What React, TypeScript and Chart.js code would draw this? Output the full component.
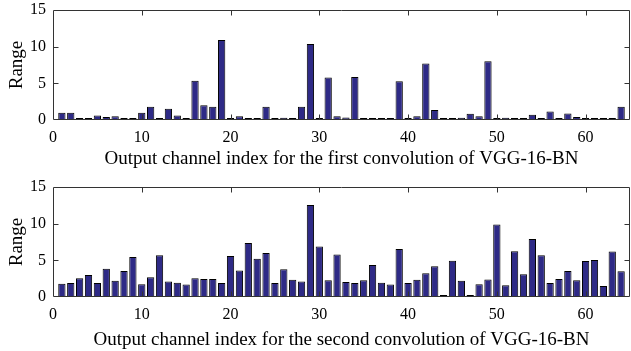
import React, { useEffect, useRef } from "react";
import { Chart, registerables } from "chart.js";

Chart.register(...registerables);

const channels: number[] = Array.from({ length: 64 }, (_, i) => i + 1);

const firstConvRange: number[] = [
  1.0, 1.0, 0.05, 0.2, 0.6, 0.4, 0.5, 0.05, 0.05, 1.0,
  1.8, 0.05, 1.55, 0.6, 0.05, 5.35, 2.0, 1.8, 10.9, 0.1,
  0.5, 0.05, 0.05, 1.8, 0.05, 0.3, 0.05, 1.8, 10.35, 0.05,
  5.8, 0.5, 0.35, 5.85, 0.05, 0.05, 0.05, 0.05, 5.3, 0.05,
  0.5, 7.7, 1.35, 0.05, 0.05, 0.3, 0.85, 0.5, 8.0, 0.1,
  0.3, 0.05, 0.1, 0.7, 0.05, 1.15, 0.05, 0.9, 0.4, 0.05,
  0.05, 0.2, 0.05, 1.8,
];

const secondConvRange: number[] = [
  1.8, 1.9, 2.55, 3.0, 1.9, 3.85, 2.2, 3.55, 5.45, 1.75,
  2.7, 5.7, 2.1, 1.95, 1.7, 2.55, 2.45, 2.45, 1.9, 5.6,
  3.6, 7.35, 5.2, 6.0, 1.9, 3.8, 2.35, 2.1, 12.55, 6.9,
  2.3, 5.8, 2.05, 1.9, 2.3, 4.35, 1.95, 1.7, 6.55, 1.9,
  2.35, 3.25, 4.2, 0.05, 4.95, 2.2, 0.05, 1.75, 2.4, 9.9,
  1.6, 6.25, 3.1, 7.9, 5.7, 1.9, 2.45, 3.55, 2.3, 4.9,
  5.05, 1.5, 6.2, 3.5,
];

const xTicks: number[] = [0, 10, 20, 30, 40, 50, 60];
const yTicks: number[] = [0, 5, 10, 15];

const FONT = "'Liberation Serif', 'Times New Roman', serif";

const framePlugin = {
  id: "frame",
  afterDraw(chart: any) {
    const { ctx, chartArea } = chart;
    const { left, right, top, bottom } = chartArea;
    const xs = chart.scales.x;
    const ys = chart.scales.y;
    ctx.save();
    ctx.strokeStyle = "#333";
    ctx.lineWidth = 1;
    ctx.beginPath();
    const L = Math.round(left) + 0.5;
    const R = Math.round(right) - 0.5;
    const T = Math.round(top) + 0.5;
    const B = Math.round(bottom) - 0.5;
    ctx.rect(L, T, R - L, B - T);
    const len = 5;
    xTicks.forEach((v) => {
      const px = Math.round(xs.getPixelForValue(v)) + 0.5;
      if (px <= L + 1 || px >= R - 1) return;
      ctx.moveTo(px, B);
      ctx.lineTo(px, B - len);
      ctx.moveTo(px, T);
      ctx.lineTo(px, T + len);
    });
    yTicks.forEach((v) => {
      const py = Math.round(ys.getPixelForValue(v)) + 0.5;
      if (py <= T + 1 || py >= B - 1) return;
      ctx.moveTo(L, py);
      ctx.lineTo(L + len, py);
      ctx.moveTo(R, py);
      ctx.lineTo(R - len, py);
    });
    ctx.stroke();
    ctx.restore();
  },
};

function makeConfig(values: number[], title: string, padTop: number, xHeight: number, titlePad: number): any {
  return {
    type: "bar",
    data: {
      datasets: [
        {
          data: values.map((v, i) => ({ x: channels[i], y: v })),
          backgroundColor: "#2e2a86",
          borderColor: "#000",
          borderWidth: 1,
          borderSkipped: false,
          minBarLength: 2,
          categoryPercentage: 1,
          barPercentage: 0.82,
        },
      ],
    },
    options: {
      responsive: false,
      animation: false,
      devicePixelRatio: 1,
      layout: { padding: { top: padTop, right: 1, left: 0, bottom: 0 } },
      plugins: { legend: { display: false }, tooltip: { enabled: false } },
      scales: {
        x: {
          type: "linear",
          min: 0,
          max: 65,
          offset: false,
          grid: { display: false, drawTicks: false },
          border: { display: false },
          afterBuildTicks: (s: any) => {
            s.ticks = xTicks.map((v) => ({ value: v }));
          },
          afterFit: (s: any) => {
            s.height = xHeight;
            s.paddingLeft = 0;
            s.paddingRight = 0;
          },
          ticks: {
            color: "#000",
            font: { family: FONT, size: 16 },
            padding: 8,
            maxRotation: 0,
            autoSkip: false,
          },
          title: {
            display: true,
            text: title,
            color: "#000",
            font: { family: FONT, size: 19 },
            padding: { top: titlePad, bottom: 0 },
          },
        },
        y: {
          min: 0,
          max: 15,
          grid: { display: false, drawTicks: false },
          border: { display: false },
          afterBuildTicks: (s: any) => {
            s.ticks = yTicks.map((v) => ({ value: v }));
          },
          afterFit: (s: any) => {
            s.width = 53;
            s.paddingTop = 0;
            s.paddingBottom = 0;
          },
          ticks: {
            color: "#000",
            font: { family: FONT, size: 16 },
            padding: 7,
          },
          title: {
            display: true,
            text: "Range",
            color: "#000",
            font: { family: FONT, size: 19 },
            padding: { top: 6, bottom: 0 },
          },
        },
      },
    },
    plugins: [framePlugin],
  };
}

function BarPanel(props: { values: number[]; title: string; height: number; padTop: number; xHeight: number; titlePad: number }) {
  const ref = useRef<HTMLCanvasElement | null>(null);
  useEffect(() => {
    if (!ref.current) return;
    const chart = new Chart(ref.current, makeConfig(props.values, props.title, props.padTop, props.xHeight, props.titlePad));
    return () => chart.destroy();
  }, []);
  return <canvas ref={ref} width={631} height={props.height} style={{ display: "block", width: 631, height: props.height }} />;
}

export default function App() {
  return (
    <div style={{ position: "fixed", left: 0, top: 0, width: 631, height: 351, background: "#fff" }}>
      <BarPanel
        values={firstConvRange}
        title="Output channel index for the first convolution of VGG-16-BN"
        height={170}
        padTop={10}
        xHeight={50}
        titlePad={0}
      />
      <BarPanel
        values={secondConvRange}
        title="Output channel index for the second convolution of VGG-16-BN"
        height={181}
        padTop={17}
        xHeight={54}
        titlePad={6}
      />
    </div>
  );
}
